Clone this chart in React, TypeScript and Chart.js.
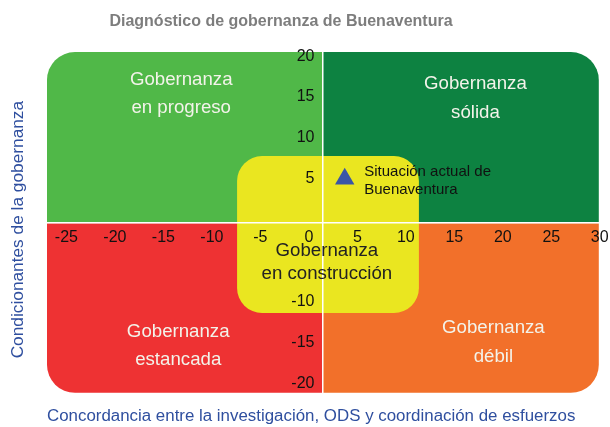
import { useEffect, useRef } from 'react';
import { Chart, registerables } from 'chart.js';

Chart.register(...registerables);

// ---- text ----
const TITLE = 'Diagnóstico de gobernanza de Buenaventura';
const X_TITLE = 'Concordancia entre la investigación, ODS y coordinación de esfuerzos';
const Y_TITLE = 'Condicionantes de la gobernanza';

// ---- axes ----
const X_TICKS = [-25, -20, -15, -10, -5, 0, 5, 10, 15, 20, 25, 30];
const Y_TICKS = [20, 15, 10, 5, -10, -15, -20];
const X_RANGE = [-27, 29.9];
const Y_RANGE = [-21.1, 20.5];

// ---- quadrant layout (data units) ----
const CROSS_X = 1.4;
const CROSS_Y = -0.4;
const Y_LABEL_GAP = 0.82;
const ZONE_X = [-7.4, 11.35];
const ZONE_Y = [-11.35, 7.8];

// ---- series ----
const POINT_NAME = 'Situación actual de Buenaventura';
const POINT_X = [3.7];
const POINT_Y = [5];
const POINT_LABEL = ['Situación actual de', 'Buenaventura'];

// ---- quadrant names ----
const QUADRANT_NAMES = [
  ['Gobernanza', 'en progreso'],
  ['Gobernanza', 'sólida'],
  ['Gobernanza', 'estancada'],
  ['Gobernanza', 'débil'],
  ['Gobernanza', 'en construcción'],
];
const QUADRANT_LABEL_X = [-13.16, 17.18, -13.47, 19.03, 1.86];
const QUADRANT_LABEL_Y = [15.37, 14.82, -15.37, -14.94, -5.12];

const FONT = '"Liberation Sans", Arial, sans-serif';
const NB = '\u00A0';

const COLORS = {
  tl: '#50B848',
  tr: '#0D8241',
  bl: '#EE3233',
  br: '#F2702A',
  zone: '#EAE620',
  point: '#3A56A6',
  title: '#7D7D7D',
  axisTitle: '#2F4F9F',
  tick: '#111111',
  lightText: '#F3F3EA',
  darkText: '#222222',
};

const quadrantPlugin = {
  id: 'quadrants',
  beforeDraw(chart: any) {
    const { ctx, chartArea: a, scales } = chart;
    const x = scales.x;
    const y = scales.y;
    const cx = x.getPixelForValue(CROSS_X);
    const cy = y.getPixelForValue(CROSS_Y);
    const r = 28;
    ctx.save();
    const quad = (x0: number, y0: number, x1: number, y1: number, radii: number[], color: string) => {
      ctx.beginPath();
      ctx.fillStyle = color;
      ctx.roundRect(x0, y0, x1 - x0, y1 - y0, radii);
      ctx.fill();
    };
    quad(a.left, a.top, cx, cy, [r, 0, 0, 0], COLORS.tl);
    quad(cx, a.top, a.right, cy, [0, r, 0, 0], COLORS.tr);
    quad(a.left, cy, cx, a.bottom, [0, 0, 0, r], COLORS.bl);
    quad(cx, cy, a.right, a.bottom, [0, 0, r, 0], COLORS.br);
    const zx0 = x.getPixelForValue(ZONE_X[0]);
    const zx1 = x.getPixelForValue(ZONE_X[1]);
    const zy0 = y.getPixelForValue(ZONE_Y[1]);
    const zy1 = y.getPixelForValue(ZONE_Y[0]);
    quad(zx0, zy0, zx1, zy1, [25, 25, 25, 25], COLORS.zone);
    ctx.restore();
  },
};

const labelPlugin = {
  id: 'labels',
  afterDatasetsDraw(chart: any) {
    const { ctx, scales } = chart;
    const x = scales.x;
    const y = scales.y;
    ctx.save();
    ctx.textAlign = 'center';
    ctx.textBaseline = 'middle';
    ctx.font = `18.67px ${FONT}`;
    QUADRANT_NAMES.forEach((lines, i) => {
      const px = x.getPixelForValue(QUADRANT_LABEL_X[i]);
      const py = y.getPixelForValue(QUADRANT_LABEL_Y[i]);
      const center = i === 4;
      const gap = center ? 23 : 28.5;
      ctx.fillStyle = center ? COLORS.darkText : COLORS.lightText;
      lines.forEach((t, j) => {
        ctx.fillText(t, px, py + (j - (lines.length - 1) / 2) * gap);
      });
    });
    // point label
    const meta = chart.getDatasetMeta(0);
    meta.data.forEach((pt: any) => {
      ctx.font = `15px ${FONT}`;
      ctx.fillStyle = '#111111';
      ctx.textAlign = 'left';
      POINT_LABEL.forEach((t, j) => {
        ctx.fillText(t, pt.x + 19.5, pt.y - 7.2 + j * 18);
      });
    });
    ctx.restore();
  },
};

const zeroPad = (s: any) => {
  s.paddingLeft = 0;
  s.paddingRight = 0;
  s.paddingTop = 0;
  s.paddingBottom = 0;
};

const hiddenGrid = { display: false, drawTicks: false };

export default function App() {
  const ref = useRef<HTMLCanvasElement>(null);
  useEffect(() => {
    const canvas = ref.current!;
    Chart.defaults.font.family = FONT;
    const chart = new Chart(canvas, {
      type: 'scatter',
      data: {
        datasets: [
          {
            label: POINT_NAME,
            data: POINT_X.map((v, i) => ({ x: v, y: POINT_Y[i] })),
            pointStyle: 'triangle',
            pointRadius: 11.2,
            pointHoverRadius: 11.2,
            backgroundColor: COLORS.point,
            borderColor: COLORS.point,
            borderWidth: 0,
            xAxisID: 'x',
            yAxisID: 'y',
          },
        ],
      },
      options: {
        responsive: false,
        animation: false,
        devicePixelRatio: 1,
        layout: { padding: { top: 0, left: 0, right: 8, bottom: 0 } },
        plugins: {
          legend: { display: false },
          tooltip: { enabled: false },
          title: {
            display: true,
            text: TITLE + NB.repeat(9),
            color: COLORS.title,
            font: { size: 16, weight: 'bold', family: FONT },
            padding: { top: 12.4, bottom: 20.4 },
          },
        },
        scales: {
          x: {
            type: 'linear',
            position: 'bottom',
            min: X_RANGE[0],
            max: X_RANGE[1],
            ticks: { display: false },
            grid: hiddenGrid,
            border: { display: false },
            title: {
              display: true,
              text: X_TITLE + NB.repeat(5),
              color: COLORS.axisTitle,
              font: { size: 17.3, family: FONT },
              padding: { top: 13.4, bottom: 0 },
            },
          },
          y: {
            type: 'linear',
            position: 'left',
            min: Y_RANGE[0],
            max: Y_RANGE[1],
            ticks: { display: false },
            grid: hiddenGrid,
            border: { display: false },
            title: {
              display: true,
              text: Y_TITLE + NB.repeat(3),
              color: COLORS.axisTitle,
              font: { size: 17.3, family: FONT },
              padding: { top: 7.6, bottom: 18.64 },
            },
          },
          xc: {
            type: 'linear',
            axis: 'x',
            position: { y: CROSS_Y },
            min: X_RANGE[0],
            max: X_RANGE[1],
            afterBuildTicks: (s: any) => {
              s.ticks = X_TICKS.map((v) => ({ value: v }));
            },
            afterFit: zeroPad,
            ticks: {
              color: COLORS.tick,
              font: { size: 16, family: FONT },
              padding: 5,
              autoSkip: false,
              maxRotation: 0,
              callback: (v: any) => String(v),
            },
            grid: hiddenGrid,
            border: { display: true, color: '#ffffff', width: 1.5 },
          },
          yl: {
            type: 'linear',
            axis: 'y',
            position: { x: CROSS_X },
            min: Y_RANGE[0],
            max: Y_RANGE[1],
            afterFit: zeroPad,
            ticks: { display: false },
            grid: hiddenGrid,
            border: { display: true, color: '#ffffff', width: 1.5 },
          },
          yc: {
            type: 'linear',
            axis: 'y',
            position: { x: CROSS_X - Y_LABEL_GAP },
            min: Y_RANGE[0],
            max: Y_RANGE[1],
            afterBuildTicks: (s: any) => {
              s.ticks = Y_TICKS.map((v) => ({ value: v }));
            },
            afterFit: zeroPad,
            ticks: {
              color: COLORS.tick,
              font: { size: 16, family: FONT },
              autoSkip: false,
              callback: (v: any) => String(v),
            },
            grid: hiddenGrid,
            border: { display: false },
          },
        },
      } as any,
      plugins: [quadrantPlugin, labelPlugin],
    });
    return () => chart.destroy();
  }, []);
  return (
    <div style={{ position: 'fixed', left: 0, top: 0, width: 610, height: 427, background: '#ffffff' }}>
      <canvas ref={ref} width={610} height={427} style={{ display: 'block', width: 610, height: 427 }} />
    </div>
  );
}
